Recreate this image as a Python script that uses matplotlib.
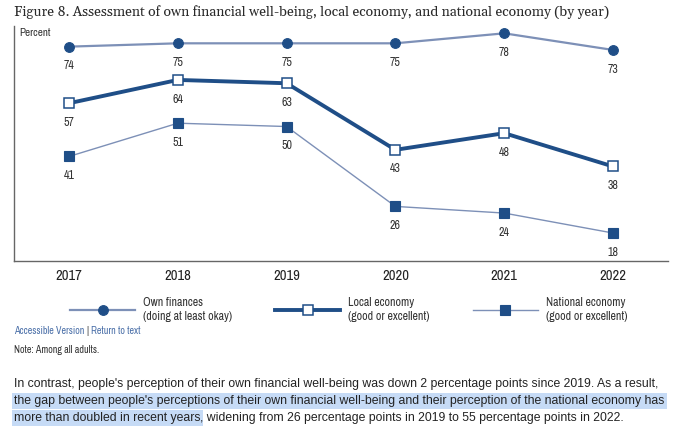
import matplotlib
matplotlib.use("Agg")
import matplotlib.pyplot as plt

# ---- data ----
years = ["2017", "2018", "2019", "2020", "2021", "2022"]
own_finances = [74, 75, 75, 75, 78, 73]
local_economy = [57, 64, 63, 43, 48, 38]
national_economy = [41, 51, 50, 26, 24, 18]
series_labels = ["Own finances\n(doing at least okay)",
                 "Local economy\n(good or excellent)",
                 "National economy\n(good or excellent)"]

title = "Figure 8. Assessment of own financial well-being, local economy, and national economy (by year)"
para1 = "In contrast, people's perception of their own financial well-being was down 2 percentage points since 2019. As a result,"
para2 = "the gap between people's perceptions of their own financial well-being and their perception of the national economy has"
para3a = "more than doubled in recent years"
para3b = ", widening from 26 percentage points in 2019 to 55 percentage points in 2022."

NARROW = ["Liberation Sans Narrow", "Archivo Narrow", "Liberation Sans", "DejaVu Sans"]
SANS = ["Liberation Sans", "Arimo", "DejaVu Sans"]
SERIF = ["Gelasio", "Liberation Serif", "DejaVu Serif"]

dark = "#1f4e87"
light = "#7d90b7"

W, H = 680, 446
fig = plt.figure(figsize=(W / 100, H / 100), dpi=100)
fig.patch.set_facecolor("white")

ax = fig.add_axes([14 / W, 1 - 261 / H, (668 - 14) / W, (261 - 26) / H])
x = list(range(len(years)))

l1, = ax.plot(x, own_finances, color=light, lw=1.6, marker="o", ms=7,
              mfc=dark, mec=dark, mew=0.8, zorder=3)
l2, = ax.plot(x, local_economy, color=dark, lw=2.8, marker="s", ms=6.5,
              mfc="white", mec=dark, mew=1.1, zorder=3)
l3, = ax.plot(x, national_economy, color=light, lw=1.0, marker="s", ms=7,
              mfc=dark, mec=dark, mew=0.8, zorder=3)

for series in (own_finances, local_economy, national_economy):
    for xi, v in zip(x, series):
        ax.annotate(str(v), (xi, v), xytext=(0, -13.8), textcoords="offset points",
                    ha="center", va="center", fontsize=8.6, color="#333333",
                    family=NARROW)

ax.set_xlim(-0.505, 5.505)
ax.set_ylim(9.6, 80.2)
ax.set_xticks(x)
ax.set_xticklabels(years, family=NARROW, fontsize=10.5, color="#222222")
ax.tick_params(axis="x", length=0, pad=6)
ax.set_yticks([])
for s in ("top", "right"):
    ax.spines[s].set_visible(False)
ax.spines["left"].set_color("#666666")
ax.spines["bottom"].set_color("#666666")
ax.spines["left"].set_linewidth(1.0)
ax.spines["bottom"].set_linewidth(1.0)

ax.text(5 / (668 - 14), 1 - 7 / 235, "Percent", transform=ax.transAxes,
        ha="left", va="center", fontsize=8.0, family=NARROW, color="#333333")

leg = fig.legend([l1, l2, l3], series_labels, ncol=3, loc="center left",
                 bbox_to_anchor=(70 / W, 1 - 309.5 / H), bbox_transform=fig.transFigure,
                 frameon=False, borderpad=0, borderaxespad=0,
                 handlelength=5.45, handletextpad=0.66, columnspacing=3.6,
                 prop={"family": NARROW, "size": 8.6})
for t in leg.get_texts():
    t.set_color("#333333")
    t.set_linespacing(1.4)

fig.text(14 / W, 1 - 12 / H, title, ha="left", va="center", fontsize=10.0,
         family=SERIF, color="#2a2a2a")

# links and note
lfs = 7.2
t_acc = fig.text(14 / W, 1 - 330.5 / H, "Accessible Version ", ha="left", va="center",
                 fontsize=lfs, family=NARROW, color="#4a6fa8")
ann_bar = fig.add_artist(plt.Annotation("| ", xy=(1, 0), xycoords=t_acc, va="bottom",
                                        fontsize=lfs, family=NARROW, color="#555555"))
fig.add_artist(plt.Annotation("Return to text", xy=(1, 0), xycoords=ann_bar, va="bottom",
                              fontsize=lfs, family=NARROW, color="#4a6fa8"))
fig.text(14 / W, 1 - 350 / H, "Note: Among all adults.", ha="left", va="center",
         fontsize=lfs, family=NARROW, color="#333333")

# paragraph
hl = "#c6dbf6"
pfs = 8.85
py = [384, 401, 418]
fig.text(14 / W, 1 - py[0] / H, para1, ha="left", va="center", fontsize=pfs,
         family=SANS, color="#222222")
box = dict(boxstyle="square,pad=0.2", facecolor=hl, edgecolor="none")
fig.text(14 / W, 1 - py[1] / H, para2, ha="left", va="center", fontsize=pfs,
         family=SANS, color=(0, 0, 0, 0), bbox=box, zorder=1)
fig.text(14 / W, 1 - py[2] / H, para3a, ha="left", va="center", fontsize=pfs,
         family=SANS, color=(0, 0, 0, 0), bbox=box, zorder=1)
fig.text(14 / W, 1 - py[1] / H, para2, ha="left", va="center", fontsize=pfs,
         family=SANS, color="#222222", zorder=2)
t3 = fig.text(14 / W, 1 - py[2] / H, para3a, ha="left", va="center", fontsize=pfs,
              family=SANS, color="#222222", zorder=2)
fig.add_artist(plt.Annotation(para3b, xy=(1, 0), xycoords=t3, va="bottom", ha="left",
                              fontsize=pfs, family=SANS, color="#222222", zorder=2))

fig.savefig("out.png", dpi=100, facecolor="white")
